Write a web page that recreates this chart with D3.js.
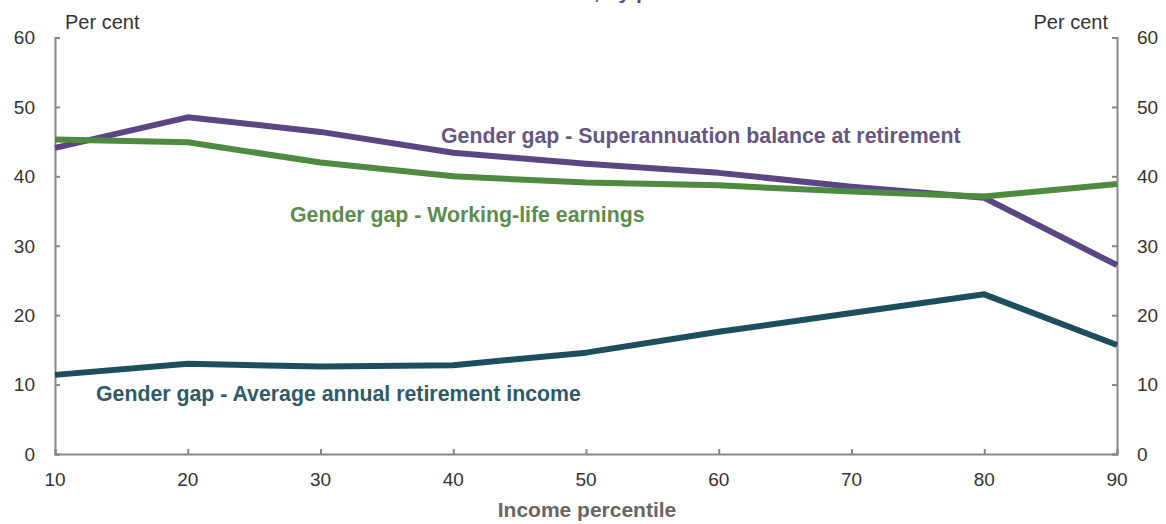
<!DOCTYPE html>
<html><head><meta charset="utf-8">
<script src="https://cdn.jsdelivr.net/npm/d3@7"></script>
<style>
html,body{margin:0;padding:0;background:#fff;}
svg{display:block;font-family:Arial,"Liberation Sans",sans-serif;}
</style></head>
<body>
<svg id="chart" width="1166" height="524"></svg>
<script>
const percentiles = [10, 20, 30, 40, 50, 60, 70, 80, 90];
const superBalance = [44.1, 48.5, 46.4, 43.4, 41.8, 40.5, 38.5, 36.9, 27.2];
const workingEarnings = [45.3, 44.9, 42.0, 40.0, 39.1, 38.7, 37.8, 37.1, 38.9];
const retirementIncome = [11.4, 13.0, 12.6, 12.8, 14.6, 17.6, 20.3, 23.0, 15.7];
const yTicks = [0, 10, 20, 30, 40, 50, 60];
const xTicks = [10, 20, 30, 40, 50, 60, 70, 80, 90];
const seriesNames = [
  "Gender gap - Superannuation balance at retirement",
  "Gender gap - Working-life earnings",
  "Gender gap - Average annual retirement income"
];
const titleHead = "Retirement outcomes";
const titleTail = ", by percentile";

(function () {
const svg = d3.select("#chart");
const mLeft = 55, mRight = 1117, mTop = 37.5, mBottom = 454;
const x = d3.scaleLinear().domain([10, 90]).range([mLeft, mRight]);
const y = d3.scaleLinear().domain([0, 60]).range([mBottom, mTop]);
const axisColor = "#888";
const textColor = "#333";

// title: cut off by the top edge in the reference, only descenders visible
const title = svg.append("text").attr("y", -1)
  .attr("font-size", 21).attr("font-weight", "bold").attr("fill", "#5a3f8c");
title.append("tspan").text(titleHead);
title.append("tspan").text(titleTail);
const headW = title.select("tspan").node().getComputedTextLength();
title.attr("x", 594 - headW);

// axes
const gL = svg.append("g").attr("transform", `translate(${mLeft},0)`)
  .call(d3.axisRight(y).tickValues(yTicks).tickSize(5).tickFormat(""));
const gR = svg.append("g").attr("transform", `translate(${mRight},0)`)
  .call(d3.axisLeft(y).tickValues(yTicks).tickSize(5).tickFormat(""));
const gB = svg.append("g").attr("transform", `translate(0,${mBottom})`)
  .call(d3.axisTop(x).tickValues(xTicks).tickSize(5).tickFormat(""));
[gL, gR, gB].forEach(g => {
  g.select(".domain").attr("stroke", axisColor).attr("stroke-width", 2);
  g.selectAll(".tick line").attr("stroke", axisColor).attr("stroke-width", 2);
});

// tick labels
svg.append("g").selectAll("text").data(yTicks).join("text")
  .attr("x", 35).attr("y", d => y(d)).attr("dy", "0.36em").attr("text-anchor", "end")
  .attr("font-size", 19).attr("fill", textColor).text(d => d);
svg.append("g").selectAll("text").data(yTicks).join("text")
  .attr("x", 1137).attr("y", d => y(d)).attr("dy", "0.36em").attr("text-anchor", "start")
  .attr("font-size", 19).attr("fill", textColor).text(d => d);
svg.append("g").selectAll("text").data(xTicks).join("text")
  .attr("x", d => x(d)).attr("y", 486).attr("text-anchor", "middle")
  .attr("font-size", 19).attr("fill", textColor).text(d => d);

svg.append("text").attr("x", 65).attr("y", 29).attr("font-size", 20).attr("fill", textColor).text("Per cent");
svg.append("text").attr("x", 1108).attr("y", 29).attr("text-anchor", "end").attr("font-size", 20).attr("fill", textColor).text("Per cent");
svg.append("text").attr("x", 587).attr("y", 517).attr("text-anchor", "middle")
  .attr("font-size", 21).attr("font-weight", "bold").attr("fill", "#666").text("Income percentile");

// lines
const series = [
  {values: superBalance, color: "#5b4684"},
  {values: workingEarnings, color: "#4e8a3f"},
  {values: retirementIncome, color: "#1d4e5e"}
];
const line = d3.line().x(d => x(d[0])).y(d => y(d[1]));
svg.append("g").selectAll("path").data(series).join("path")
  .attr("d", s => line(percentiles.map((p, i) => [p, s.values[i]])))
  .attr("fill", "none").attr("stroke", s => s.color).attr("stroke-width", 6)
  .attr("stroke-linejoin", "round");

// series labels
const labels = [
  {text: seriesNames[0], x: 441, y: 143, color: "#66577f"},
  {text: seriesNames[1], x: 290, y: 222, color: "#5b8d4e"},
  {text: seriesNames[2], x: 96, y: 401, color: "#2e5b68"}
];
svg.append("g").selectAll("text").data(labels).join("text")
  .attr("x", d => d.x).attr("y", d => d.y).attr("font-size", 21.3).attr("font-weight", "bold")
  .attr("fill", d => d.color).text(d => d.text);
})();
</script>
</body></html>
